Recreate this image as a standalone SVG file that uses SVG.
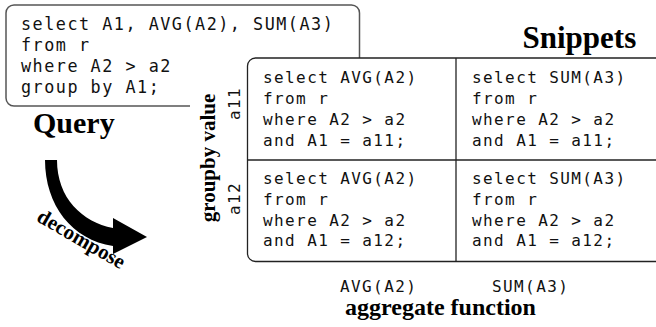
<svg xmlns="http://www.w3.org/2000/svg" width="656" height="327" viewBox="0 0 656 327">
  <style>
    .mono { font-family: "DejaVu Sans Mono", "Liberation Mono", monospace; fill: #111; }
    .code { font-size: 16px; letter-spacing: 1.4px; }
    .qcode { font-size: 16.8px; letter-spacing: 1.5px; }
    .title { font-family: "Liberation Serif", "Times New Roman", serif; font-weight: bold; font-size: 30px; fill: #000; }
    .label { font-family: "Liberation Serif", "Times New Roman", serif; font-weight: bold; font-size: 21px; fill: #000; }
    .frame { fill: #fff; stroke: #555; stroke-width: 1.5; }
    .grid { fill: #fff; stroke: #222; stroke-width: 1.3; }
    .rule { stroke: #222; stroke-width: 1.3; }
  </style>

  <!-- original query -->
  <g id="query">
    <rect class="frame" x="6" y="5" width="353.5" height="101" rx="8" ry="8"/>
    <text class="mono qcode" x="21" y="29.5">select A1, AVG(A2), SUM(A3)</text>
    <text class="mono qcode" x="21" y="50.5">from r</text>
    <text class="mono qcode" x="21" y="71.5">where A2 &gt; a2</text>
    <text class="mono qcode" x="21" y="92.5">group by A1;</text>
    <text class="title" x="33" y="133">Query</text>
  </g>

  <!-- decompose arrow -->
  <g id="decompose">
    <path d="M45,160 C45,205 72,240 113,246 L113,254 L147,237 L113,218 L113,228 C82,222 57,198 57,160 Z" fill="#000"/>
    <text class="label" transform="translate(78,245) rotate(30)" text-anchor="middle">decompose</text>
  </g>

  <!-- snippet grid -->
  <g id="snippets">
    <rect x="190" y="58" width="466" height="208" fill="#fff"/>
    <text class="title" x="522.5" y="48" style="font-size:31px">Snippets</text>
    <rect class="grid" x="247.5" y="58" width="440" height="203.5" rx="8" ry="8"/>
    <line class="rule" x1="247.5" y1="160" x2="656" y2="160"/>
    <line class="rule" x1="456" y1="58" x2="456" y2="261.5"/>

    <g id="cell-a11-avg">
      <text class="mono code" x="263" y="83.3">select AVG(A2)</text>
      <text class="mono code" x="263" y="104.1">from r</text>
      <text class="mono code" x="263" y="124.9">where A2 &gt; a2</text>
      <text class="mono code" x="263" y="145.7">and A1 = a11;</text>
    </g>
    <g id="cell-a11-sum">
      <text class="mono code" x="472" y="83.3">select SUM(A3)</text>
      <text class="mono code" x="472" y="104.1">from r</text>
      <text class="mono code" x="472" y="124.9">where A2 &gt; a2</text>
      <text class="mono code" x="472" y="145.7">and A1 = a11;</text>
    </g>
    <g id="cell-a12-avg">
      <text class="mono code" x="263" y="184">select AVG(A2)</text>
      <text class="mono code" x="263" y="204.8">from r</text>
      <text class="mono code" x="263" y="225.6">where A2 &gt; a2</text>
      <text class="mono code" x="263" y="246.4">and A1 = a12;</text>
    </g>
    <g id="cell-a12-sum">
      <text class="mono code" x="472" y="184">select SUM(A3)</text>
      <text class="mono code" x="472" y="204.8">from r</text>
      <text class="mono code" x="472" y="225.6">where A2 &gt; a2</text>
      <text class="mono code" x="472" y="246.4">and A1 = a12;</text>
    </g>
  </g>

  <!-- axis labels -->
  <g id="row-axis">
    <text class="label" transform="translate(215,158) rotate(-90)" text-anchor="middle">groupby value</text>
    <text class="mono code" transform="translate(240,120) rotate(-90)">a11</text>
    <text class="mono code" transform="translate(240,215) rotate(-90)">a12</text>
  </g>
  <g id="col-axis">
    <text class="mono code" x="340" y="292">AVG(A2)</text>
    <text class="mono code" x="492" y="292">SUM(A3)</text>
    <text class="label" x="440.5" y="315" text-anchor="middle" style="font-size:24px">aggregate function</text>
  </g>
</svg>
